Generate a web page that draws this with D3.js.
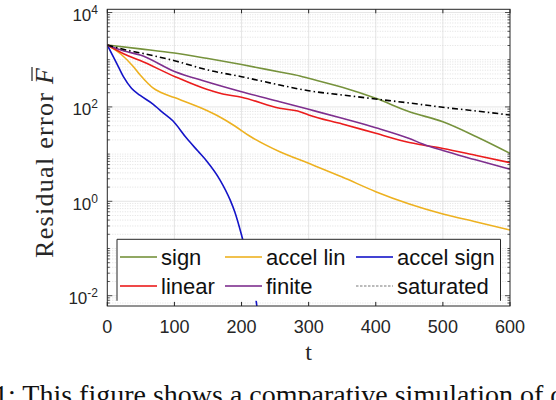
<!DOCTYPE html>
<html>
<head>
<meta charset="utf-8">
<script src="https://cdn.jsdelivr.net/npm/d3@7"></script>
<style>
  body { margin: 0; background: #fff; }
  svg { display: block; }
</style>
</head>
<body>
<div id="chart"></div>
<script>
// data (t, residual error)
const seriesNames = ['sign', 'accel lin', 'accel sign', 'linear', 'finite', 'saturated']

const tSign = [0, 49, 100, 148, 200, 257, 287, 300, 350, 400, 450, 500, 550, 600]
const vSign = [2050, 1700, 1387, 1072, 791, 548, 452, 404, 260, 152, 79.1, 48.5, 23.4, 10.4]

const tAccelLin = [0, 20, 39, 49, 60, 68, 80, 100, 140, 165, 190, 212, 257, 300, 350, 400, 450, 500, 550, 600]
const vAccelLin = [2050, 1321, 711, 474, 321, 252, 202, 158, 94.8, 64.1, 39.4, 24.2, 11.2, 6.38, 3.27, 1.6, 0.877, 0.538, 0.365, 0.247]

const tAccelSign = [0, 14, 24, 36, 49, 68, 80, 98, 118, 135, 148, 168, 183, 190, 200, 210, 222, 227]
const vAccelSign = [2050, 839, 437, 248, 175, 115, 81.8, 50.2, 21.9, 11.6, 7.14, 2.82, 1.07, 0.593, 0.193, 0.0518, 0.00736, 0.00188]

const tLinear = [0, 25, 49, 101, 148, 172, 200, 257, 287, 300, 350, 400, 450, 470, 500, 550, 600]
const vLinear = [2050, 1321, 962, 437, 236, 188, 160, 93.5, 79.3, 67.5, 43.5, 27.6, 17.6, 15.6, 13.2, 9.35, 6.58]

const tFinite = [0, 25, 49, 101, 148, 200, 257, 300, 350, 400, 450, 470, 500, 550, 600]
const vFinite = [2050, 1531, 1259, 557, 342, 210, 129, 88.9, 57.4, 36.3, 21.4, 16.4, 11.9, 7.5, 4.76]

const tSaturated = [0, 25, 50, 100, 150, 200, 257, 300, 350, 400, 450, 500, 550, 600]
const vSaturated = [2050, 1644, 1387, 953, 605, 437, 291, 220, 179, 147, 121, 98.2, 81.8, 67.5]

const xTicks = [0, 100, 200, 300, 400, 500, 600]
const yTickExps = [-2, 0, 2, 4]
const yDomain = [0.00605, 11700]

const W = 556, H = 400
const plot = { left: 107.3, right: 510, top: 9.3, bottom: 306 }
const axisColor = '#262626'
const sans = '"Liberation Sans", Arial, sans-serif'
const serif = '"Liberation Serif", "Times New Roman", serif'

const styles = [
  { color: '#76923c', dash: null },
  { color: '#edb120', dash: null },
  { color: '#1414c8', dash: null },
  { color: '#eb1c1c', dash: null },
  { color: '#7e2f8e', dash: null },
  { color: '#000000', dash: '6,3,1.5,3' }
]

const series = [
  [tSign, vSign], [tAccelLin, vAccelLin], [tAccelSign, vAccelSign],
  [tLinear, vLinear], [tFinite, vFinite], [tSaturated, vSaturated]
].map(([t, v], i) => ({ name: seriesNames[i], points: t.map((d, j) => [d, v[j]]), style: styles[i] }))

const svg = d3.select('#chart').append('svg')
  .attr('width', W)
  .attr('height', H)

const x = d3.scaleLinear().domain([0, 600]).range([plot.left, plot.right])
const y = d3.scaleLog().domain(yDomain).range([plot.bottom, plot.top])

// grid
const grid = svg.append('g').attr('class', 'grid')
xTicks.slice(1, -1).forEach(t => {
  grid.append('line')
    .attr('x1', x(t)).attr('x2', x(t))
    .attr('y1', plot.top).attr('y2', plot.bottom)
    .attr('stroke', '#dedede').attr('stroke-width', 0.8)
})

const minorVals = []
const majorVals = yTickExps.map(e => Math.pow(10, e))
for (let k = -3; k <= 4; k++) {
  for (let m = 1; m <= 9; m++) {
    const v = m * Math.pow(10, k)
    if (v < yDomain[0] || v > yDomain[1]) continue
    if (m === 1 && yTickExps.includes(k)) continue
    minorVals.push(v)
  }
}
minorVals.forEach(v => {
  grid.append('line')
    .attr('x1', plot.left).attr('x2', plot.right)
    .attr('y1', y(v)).attr('y2', y(v))
    .attr('stroke', '#d4d4d4').attr('stroke-width', 0.7)
    .attr('stroke-dasharray', '1,1.5')
})
majorVals.forEach(v => {
  grid.append('line')
    .attr('x1', plot.left).attr('x2', plot.right)
    .attr('y1', y(v)).attr('y2', y(v))
    .attr('stroke', '#dedede').attr('stroke-width', 0.8)
})

// curves
svg.append('clipPath').attr('id', 'clip')
  .append('rect')
  .attr('x', plot.left).attr('y', plot.top)
  .attr('width', plot.right - plot.left).attr('height', plot.bottom - plot.top)

const line = d3.line().x(d => x(d[0])).y(d => y(d[1])).curve(d3.curveMonotoneX)

svg.append('g').attr('clip-path', 'url(#clip)')
  .selectAll('path')
  .data(series)
  .enter().append('path')
    .attr('d', d => line(d.points))
    .attr('fill', 'none')
    .attr('stroke', d => d.style.color)
    .attr('stroke-width', 1.6)
    .attr('stroke-dasharray', d => d.style.dash)

// axes box and ticks
const ax = svg.append('g').attr('class', 'axes')
ax.append('rect')
  .attr('x', plot.left).attr('y', plot.top)
  .attr('width', plot.right - plot.left).attr('height', plot.bottom - plot.top)
  .attr('fill', 'none').attr('stroke', axisColor).attr('stroke-width', 1)

xTicks.forEach(t => {
  ax.append('line').attr('x1', x(t)).attr('x2', x(t))
    .attr('y1', plot.bottom).attr('y2', plot.bottom - 4).attr('stroke', axisColor)
  ax.append('line').attr('x1', x(t)).attr('x2', x(t))
    .attr('y1', plot.top).attr('y2', plot.top + 4).attr('stroke', axisColor)
  ax.append('text')
    .attr('x', x(t)).attr('y', 333)
    .attr('text-anchor', 'middle')
    .style('font-family', sans).style('font-size', '18px')
    .attr('fill', axisColor)
    .text(t)
})

majorVals.concat(minorVals).forEach(v => {
  const len = majorVals.includes(v) ? 5 : 2.5
  ax.append('line').attr('x1', plot.left).attr('x2', plot.left + len)
    .attr('y1', y(v)).attr('y2', y(v)).attr('stroke', axisColor).attr('stroke-width', 0.8)
  ax.append('line').attr('x1', plot.right).attr('x2', plot.right - len)
    .attr('y1', y(v)).attr('y2', y(v)).attr('stroke', axisColor).attr('stroke-width', 0.8)
})

yTickExps.forEach(e => {
  const ty = y(Math.pow(10, e))
  const lab = ax.append('text')
    .attr('x', 98).attr('y', ty + 8.5)
    .attr('text-anchor', 'end')
    .style('font-family', sans)
    .attr('fill', axisColor)
  lab.append('tspan').style('font-size', '17px').text('10')
  lab.append('tspan').style('font-size', '12px').attr('dy', -7).text(e)
})

// axis labels
svg.append('text')
  .attr('x', (plot.left + plot.right) / 2).attr('y', 360)
  .attr('text-anchor', 'middle')
  .style('font-family', serif).style('font-size', '24px')
  .attr('fill', axisColor)
  .text('t')

const ylab = svg.append('g').attr('transform', 'translate(53,163) rotate(-90)')
const ylabText = ylab.append('text')
  .attr('x', 0).attr('y', 0)
  .attr('text-anchor', 'middle')
  .attr('textLength', 190).attr('lengthAdjust', 'spacing')
  .style('font-family', serif).style('font-size', '26px')
  .attr('fill', axisColor)
ylabText.append('tspan').text('Residual error ')
ylabText.append('tspan').style('font-style', 'italic').text('F')
const fullLabel = 'Residual error F'
const ext = ylabText.node().getExtentOfChar(fullLabel.length - 1)
ylab.append('line')
  .attr('x1', ext.x + 3).attr('x2', ext.x + ext.width + 1)
  .attr('y1', -21).attr('y2', -21)
  .attr('stroke', axisColor).attr('stroke-width', 1.2)

// legend
const leg = { x: 117, y: 239.3, w: 383.5, h: 61.5 }
const lg = svg.append('g').attr('class', 'legend')
lg.append('rect')
  .attr('x', leg.x).attr('y', leg.y).attr('width', leg.w).attr('height', leg.h)
  .attr('fill', '#fff')
lg.append('path')
  .attr('d', `M${leg.x},${leg.y + leg.h}V${leg.y}H${leg.x + leg.w}V${leg.y + leg.h}`)
  .attr('fill', 'none').attr('stroke', axisColor).attr('stroke-width', 1)

const colX = [120, 225, 356]
const rowY = [257, 286]
series.forEach((s, k) => {
  const cx = colX[k % 3], cy = rowY[Math.floor(k / 3)]
  lg.append('line')
    .attr('x1', cx).attr('x2', cx + 37)
    .attr('y1', cy).attr('y2', cy)
    .attr('stroke', s.style.dash ? '#555' : s.style.color)
    .attr('stroke-opacity', 0.8)
    .attr('stroke-width', s.style.dash ? 1.2 : 1.8)
    .attr('stroke-dasharray', s.style.dash ? '2.5,1.5' : null)
  lg.append('text')
    .attr('x', cx + 41).attr('y', cy + 8)
    .style('font-family', sans).style('font-size', '22px')
    .attr('fill', '#111')
    .text(s.name)
})

// figure caption, cut by the bottom edge as in the source
svg.append('text')
  .attr('x', -6).attr('y', 404)
  .style('font-family', serif).style('font-size', '28px')
  .attr('fill', '#111')
  .text('1: This figure shows a comparative simulation of d')
</script>
</body>
</html>
